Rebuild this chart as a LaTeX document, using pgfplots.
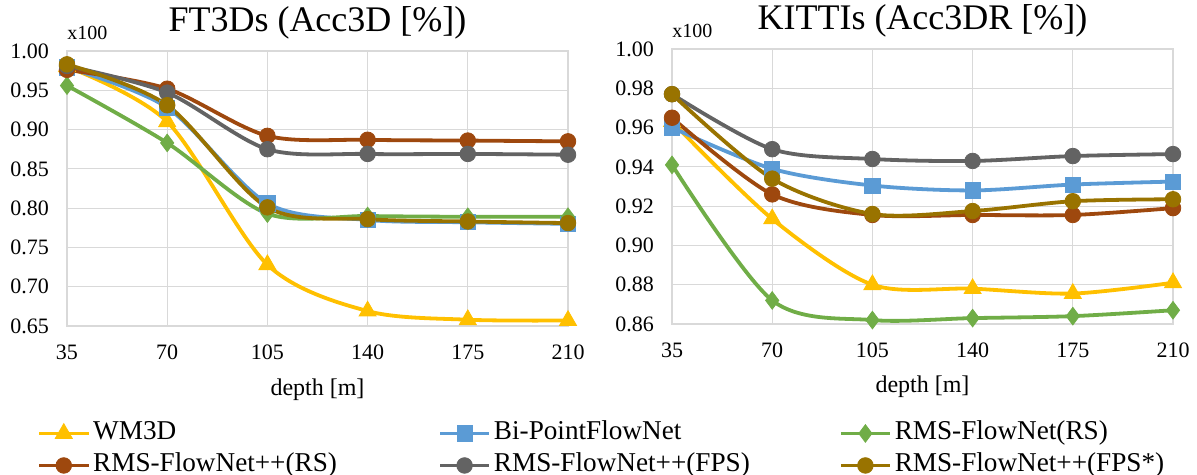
\documentclass[border=0pt]{standalone}
\usepackage{fontspec}
\setmainfont{Liberation Serif}
\usepackage{pgfplots}
\pgfplotsset{compat=1.18}

\definecolor{cYel}{HTML}{FFC000}
\definecolor{cBlu}{HTML}{5B9BD5}
\definecolor{cGrn}{HTML}{70AD47}
\definecolor{cBrn}{HTML}{9E480E}
\definecolor{cGry}{HTML}{636363}
\definecolor{cOli}{HTML}{997300}
\definecolor{gridc}{HTML}{D9D9D9}

\pgfplotsset{
  mystyle/.style={
    scale only axis, width=250.5pt, height=137.5pt,
    xmin=35, xmax=210, xtick={35,70,105,140,175,210},
    grid=major, major grid style={gridc, line width=0.6pt},
    axis line style={gridc, line width=0.6pt},
    tick style={draw=none},
    /pgf/number format/assume math mode=true,
    tick label style={font=\fontsize{11}{13}\selectfont},
    yticklabel style={/pgf/number format/fixed, /pgf/number format/fixed zerofill, /pgf/number format/precision=2, xshift=-5.5pt},
    xticklabel style={yshift=-6pt},
    xlabel={depth [m]},
    xlabel style={font=\fontsize{12}{14}\selectfont, at={(axis description cs:0.5,0)}, anchor=base, yshift=-34.5pt},
    title style={font=\fontsize{18}{21}\selectfont, at={(axis description cs:0.5,1)}, anchor=base, yshift=3.5pt},
    every axis plot/.append style={line width=1.9pt, smooth, tension=0.5},
    legend image code/.code={\draw[mark repeat=2,mark phase=2] plot coordinates {(0pt,0pt)(12.25pt,0pt)(24.5pt,0pt)};},
    clip=false,
  },
  pYel/.style={cYel, mark=triangle*, mark size=4.9pt, mark options={solid, fill=cYel, draw=cYel, line width=0.4pt}},
  pBlu/.style={cBlu, mark=square*, mark size=3.8pt, mark options={solid, fill=cBlu, draw=cBlu, line width=0.4pt}},
  pGrn/.style={cGrn, mark=diamond*, mark size=4.4pt, mark options={solid, fill=cGrn, draw=cGrn, line width=0.4pt}},
  pBrn/.style={cBrn, mark=*, mark size=3.9pt, mark options={solid, fill=cBrn, draw=cBrn, line width=0.4pt}},
  pGry/.style={cGry, mark=*, mark size=3.9pt, mark options={solid, fill=cGry, draw=cGry, line width=0.4pt}},
  pOli/.style={cOli, mark=*, mark size=3.9pt, mark options={solid, fill=cOli, draw=cOli, line width=0.4pt}},
}

\begin{document}
\begin{tikzpicture}
\useasboundingbox (-33.5pt,-75pt) rectangle (565pt,162.5pt);

\begin{axis}[mystyle, at={(0pt,-0.5pt)}, anchor=south west,
  title={FT3Ds (Acc3D [\%])},
  ymin=0.65, ymax=1.00, ytick={0.65,0.70,...,1.001},
  legend columns=3,
  legend cell align=left,
  legend style={draw=none, fill=none, at={(-0.0599,-0.333)}, anchor=north west,
    inner sep=0pt, column sep=0pt, row sep=0.5pt,
    font=\fontsize{13.6}{15}\selectfont,
    nodes={inner xsep=1.5pt, inner ysep=1pt, text height=10pt, text depth=3.5pt, text width=171pt, align=left}},
]
\addplot[pYel] coordinates {(35,0.980) (70,0.910) (105,0.728) (140,0.669) (175,0.658) (210,0.657)};
\addlegendentry{WM3D}
\addplot[pBlu] coordinates {(35,0.979) (70,0.928) (105,0.806) (140,0.785) (175,0.782) (210,0.780)};
\addlegendentry{Bi-PointFlowNet}
\addplot[pGrn] coordinates {(35,0.956) (70,0.883) (105,0.793) (140,0.790) (175,0.789) (210,0.789)};
\addlegendentry{RMS-FlowNet(RS)}
\addplot[pBrn] coordinates {(35,0.976) (70,0.952) (105,0.892) (140,0.887) (175,0.886) (210,0.885)};
\addlegendentry{RMS-FlowNet++(RS)}
\addplot[pGry] coordinates {(35,0.981) (70,0.947) (105,0.875) (140,0.869) (175,0.869) (210,0.868)};
\addlegendentry{RMS-FlowNet++(FPS)}
\addplot[pOli] coordinates {(35,0.983) (70,0.931) (105,0.801) (140,0.786) (175,0.783) (210,0.781)};
\addlegendentry{RMS-FlowNet++(FPS*)}
\node[anchor=base west, inner sep=0pt, font=\fontsize{10}{12}\selectfont, yshift=5.5pt] at (rel axis cs:0,1) {x100};
\end{axis}

\begin{axis}[mystyle, at={(302.5pt,0.5pt)}, anchor=south west,
  title={KITTIs (Acc3DR [\%])},
  ymin=0.86, ymax=1.00, ytick={0.86,0.88,...,1.001},
]
\addplot[pYel] coordinates {(35,0.963) (70,0.9135) (105,0.880) (140,0.878) (175,0.8755) (210,0.881)};
\addplot[pBlu] coordinates {(35,0.960) (70,0.939) (105,0.9305) (140,0.928) (175,0.931) (210,0.9325)};
\addplot[pGrn] coordinates {(35,0.941) (70,0.872) (105,0.862) (140,0.863) (175,0.864) (210,0.867)};
\addplot[pBrn] coordinates {(35,0.965) (70,0.926) (105,0.9155) (140,0.9155) (175,0.9155) (210,0.919)};
\addplot[pGry] coordinates {(35,0.977) (70,0.949) (105,0.944) (140,0.943) (175,0.9455) (210,0.9465)};
\addplot[pOli] coordinates {(35,0.977) (70,0.934) (105,0.916) (140,0.9175) (175,0.9225) (210,0.9235)};
\node[anchor=base west, inner sep=0pt, font=\fontsize{10}{12}\selectfont, yshift=5.5pt] at (rel axis cs:0,1) {x100};
\end{axis}
\end{tikzpicture}
\end{document}
